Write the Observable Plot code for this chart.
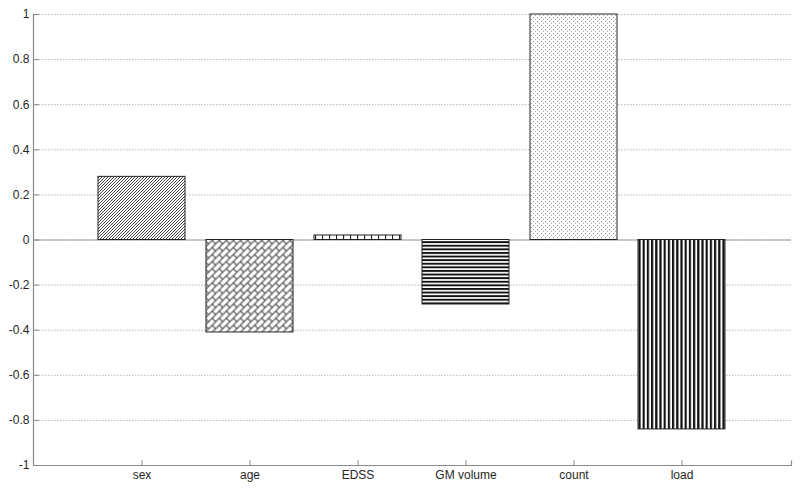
<!DOCTYPE html>
<html>
<head>
<meta charset="utf-8">
<script src="https://cdn.jsdelivr.net/npm/d3@7"></script>
<script src="https://cdn.jsdelivr.net/npm/@observablehq/plot@0.6"></script>
<style>
  html, body { margin: 0; padding: 0; background: #fff; }
  #chart svg { display: block; }
</style>
</head>
<body>
<div id="chart"></div>
<script>
const categories = ["sex", "age", "EDSS", "GM volume", "count", "load"];
const values = [0.28, -0.41, 0.02, -0.286, 1.0, -0.84];
const yTicks = [-1, -0.8, -0.6, -0.4, -0.2, 0, 0.2, 0.4, 0.6, 0.8, 1];

const patternIds = {sex: "pSex", age: "pAge", EDSS: "pEDSS", "GM volume": "pGM", count: "pCount", load: "pLoad"};

const data = categories.map((c, i) => ({category: c, value: values[i]}));

const W = 800, H = 491;
const mL = 33, mR = 9, mT = 14, mB = 26;
const fw = W - mL - mR, fh = H - mT - mB;
const fmt = d => String(+d.toFixed(1));

const chart = Plot.plot({
  width: W,
  height: H,
  marginLeft: mL,
  marginRight: mR,
  marginTop: mT,
  marginBottom: mB,
  style: {fontFamily: "'Liberation Sans', Arial, sans-serif", fontSize: "12px", color: "#262626", background: "#fff"},
  x: {domain: categories, paddingInner: 0.19, paddingOuter: 0.585, label: null},
  y: {domain: [-1, 1], label: null},
  color: {type: "identity"},
  marks: [
    Plot.gridY(yTicks, {stroke: "#b8b8b8", strokeOpacity: 1, strokeDasharray: "1.5,1.5"}),
    Plot.ruleY([0], {stroke: "#a0a0a0", strokeWidth: 1.2}),
    Plot.frame({stroke: "#8a8a8a", strokeWidth: 1.2, strokeDasharray: `0 ${fw + fh - 5} ${fw + fh + 5}`}),
    Plot.barY(data, {x: "category", y: "value", fill: d => `url(#${patternIds[d.category]})`, stroke: "#222", strokeWidth: 1}),
    Plot.axisY(yTicks, {tickSize: -6, tickFormat: () => "", stroke: "#8a8a8a"}),
    Plot.axisY(yTicks, {tickSize: 0, tickPadding: 4, tickFormat: fmt, fill: "#262626"}),
    Plot.axisX({tickSize: -5, tickFormat: () => "", stroke: "#8a8a8a"}),
    Plot.axisX({tickSize: 0, tickPadding: 5, fill: "#262626"})
  ]
});

const svg = d3.select(chart);
const defs = svg.insert("defs", ":first-child");

function pattern(id, w, h, build, transform) {
  const p = defs.append("pattern").attr("id", id).attr("patternUnits", "userSpaceOnUse")
    .attr("width", w).attr("height", h);
  if (transform) p.attr("patternTransform", transform);
  p.append("rect").attr("width", w).attr("height", h).attr("fill", "#fff");
  build(p);
}

// sex: dense forward diagonal hatching
pattern("pSex", 3, 3, p => {
  p.append("path").attr("d", "M-1,1 L1,-1 M0,3 L3,0 M2,4 L4,2").attr("stroke", "#333").attr("stroke-width", 0.9);
});
// age: diagonal brick pattern
pattern("pAge", 10, 10, p => {
  p.append("path").attr("d", "M0,0 H10 M0,5 H10 M0,10 H10 M0,0 V5 M10,0 V5 M5,5 V10")
    .attr("stroke", "#333").attr("stroke-width", 1).attr("fill", "none");
}, "rotate(-45)");
// EDSS: small squares
pattern("pEDSS", 7, 7, p => {
  p.append("path").attr("d", "M0.5,0 V7").attr("stroke", "#222").attr("stroke-width", 1.2);
});
// GM volume: horizontal lines
pattern("pGM", 3.6, 3.6, p => {
  p.append("rect").attr("x", 0).attr("y", 0).attr("width", 3.6).attr("height", 1.9).attr("fill", "#111");
});
// count: dots
pattern("pCount", 4, 4, p => {
  p.append("rect").attr("x", 1).attr("y", 1).attr("width", 1).attr("height", 1).attr("fill", "#888");
  p.append("rect").attr("x", 3).attr("y", 3).attr("width", 1).attr("height", 1).attr("fill", "#aaa");
});
// load: vertical lines
pattern("pLoad", 4.2, 4.2, p => {
  p.append("rect").attr("x", 0).attr("y", 0).attr("width", 2.2).attr("height", 4.2).attr("fill", "#111");
});

document.getElementById("chart").appendChild(chart);
</script>
</body>
</html>
